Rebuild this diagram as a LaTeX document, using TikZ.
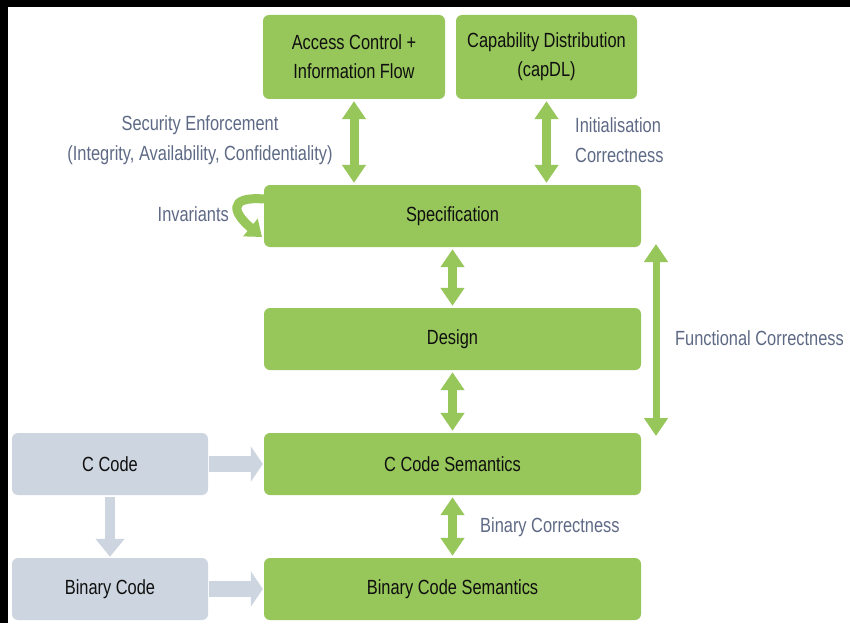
\documentclass[tikz,border=0pt]{standalone}
\usepackage{fontspec}
\setmainfont{Liberation Sans}[FakeStretch=0.8]
\usetikzlibrary{arrows.meta}
\definecolor{boxgreen}{RGB}{151,198,90}
\definecolor{boxgrey}{RGB}{205,214,224}
\definecolor{labelgrey}{RGB}{94,106,133}
\definecolor{boxtext}{RGB}{15,15,15}

\begin{document}
\begin{tikzpicture}[x=1pt,y=-1pt,
    box/.style={fill=boxgreen, rounded corners=6pt, text=boxtext, align=center,
        inner sep=0pt, font=\fontsize{20.5}{29}\selectfont},
    srcbox/.style={box, fill=boxgrey},
    lbl/.style={text=labelgrey, inner sep=0pt, font=\fontsize{20.5}{30}\selectfont},
    proof/.style={draw=boxgreen, line width=9pt, shorten <=2pt, shorten >=2pt,
        {Triangle[width=23pt,length=18pt]}-{Triangle[width=23pt,length=18pt]}},
    compile/.style={draw=boxgrey, line width=16pt, shorten <=1pt, shorten >=1pt,
        -{Triangle[width=35pt,length=12pt]}}]
\fill[black] (0,0) rectangle (850,623);
\fill[white] (8,7) rectangle (850,623);
\useasboundingbox (0,0) rectangle (850,623);

% proof layers
\node[box, minimum width=182pt, minimum height=84pt] (acc) at (354,57) {Access Control +\\Information Flow};
\node[box, minimum width=181pt, minimum height=84pt] (cap) at (546.5,57) {Capability Distribution\\(capDL)};
\node[box, minimum width=377pt, minimum height=62pt] (spec) at (452.5,216) {Specification};
\node[box, minimum width=377pt, minimum height=62pt] (design) at (452.5,339) {Design};
\node[box, minimum width=377pt, minimum height=62pt] (csem) at (452.5,464) {C Code Semantics};
\node[box, minimum width=377pt, minimum height=62pt] (bsem) at (452.5,589) {Binary Code Semantics};

% sources
\node[srcbox, minimum width=196pt, minimum height=62pt] (ccode) at (110,464) {C Code};
\node[srcbox, minimum width=196pt, minimum height=62pt] (bcode) at (110,589) {Binary Code};

\draw[proof] (acc.south) -- (acc.south |- spec.north);
\draw[proof] (cap.south) -- (cap.south |- spec.north);
\draw[proof] (spec) -- (design);
\draw[proof] (design) -- (csem);
\draw[proof] (csem) -- (bsem);

\coordinate (fctop) at (656,244);
\coordinate (fcbot) at (656,436);
\draw[proof, line width=7pt, shorten <=0pt, shorten >=0pt] (fctop) -- (fcbot);

\coordinate (invstart) at (264,199);
\coordinate (invtip) at (262,237);
\draw[boxgreen, line width=9pt, -{Triangle[width=22pt,length=15pt]}]
    (invstart) .. controls (226,196) and (234,214) .. (invtip);

\draw[compile] (ccode) -- (csem);
\draw[compile] (bcode) -- (bsem);
\draw[compile, line width=10pt, shorten <=2pt, -{Triangle[width=28pt,length=18pt]}] (ccode) -- (bcode);

% labels
\node[lbl, align=center] (sec) at (200,140) {Security Enforcement\\(Integrity, Availability, Confidentiality)};
\node[lbl, align=left, anchor=west] (init) at (575,140) {Initialisation\\Correctness};
\node[lbl, anchor=east] (inv) at (229,214) {Invariants};
\node[lbl, anchor=west] (func) at (675,338) {Functional Correctness};
\node[lbl, anchor=west] (bin) at (480,527) {Binary Correctness};
\end{tikzpicture}
\end{document}
